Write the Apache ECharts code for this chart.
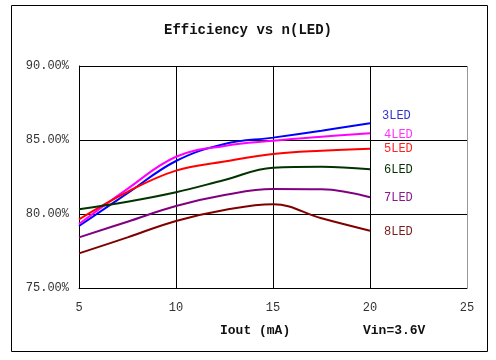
<!DOCTYPE html>
<html><head><meta charset="utf-8">
<script src="https://cdn.jsdelivr.net/npm/echarts@6/dist/echarts.min.js"></script>
<style>html,body{margin:0;padding:0;background:#fff}#c{width:496px;height:360px}</style>
</head><body><div id="c"></div>
<script>
const currents = [5, 7.5, 10, 12.5, 15, 17.5, 20];
const led3 = [79.19, 81.4, 83.58, 84.73, 85.16, 85.63, 86.13];
const led4 = [79.32, 81.7, 83.87, 84.6, 84.95, 85.22, 85.45];
const led5 = [79.64, 81.5, 82.93, 83.54, 84.05, 84.28, 84.41];
const led6 = [80.32, 80.83, 81.47, 82.30, 83.13, 83.20, 83.02];
const led7 = [78.42, 79.48, 80.54, 81.28, 81.69, 81.67, 81.13];
const led8 = [77.34, 78.42, 79.53, 80.27, 80.66, 79.71, 78.87];
const seriesNames = ['3LED', '4LED', '5LED', '6LED', '7LED', '8LED'];
const xTicks = [5, 10, 15, 20, 25];
const yTicks = [75, 80, 85, 90];

const allData = [led3, led4, led5, led6, led7, led8];
const colors = ['#0000ff', '#ff00ff', '#ff0000', '#003300', '#800080', '#800000'];
const labelColors = ['#3333cc', '#ff33ff', '#ff2222', '#003300', '#8a1a8a', '#7a1a1a'];
const labelOffsets = [[4, -7], [6, 1], [6, 0], [6, 1], [6, 1], [6, 1]];
const mono = '"Liberation Mono", "DejaVu Sans Mono", monospace';

const chart = echarts.init(document.getElementById('c'));
chart.setOption({
  animation: false,
  backgroundColor: '#fff',
  title: {
    text: 'Efficiency vs n(LED)', left: 'center', top: 18,
    textStyle: { fontFamily: mono, fontSize: 14, fontWeight: 'bold', color: '#111' }
  },
  grid: { left: 79, right: 29, top: 66, bottom: 72, containLabel: false },
  xAxis: {
    type: 'value', min: xTicks[0], max: xTicks[xTicks.length - 1], interval: 5,
    axisLine: { show: true, lineStyle: { color: '#000', width: 1 } },
    axisTick: { show: false },
    axisLabel: { fontFamily: mono, fontSize: 12, color: '#333', margin: 14 },
    splitLine: { show: true, lineStyle: { color: ['#000', '#000', '#000', '#000', '#999'], width: 1 } }
  },
  yAxis: {
    type: 'value', min: yTicks[0], max: yTicks[yTicks.length - 1], interval: 5,
    axisLine: { show: true, lineStyle: { color: '#000', width: 1 } },
    axisTick: { show: false },
    axisLabel: { fontFamily: mono, fontSize: 12, color: '#333', margin: 10,
      formatter: v => v.toFixed(2) + '%' },
    splitLine: { show: true, lineStyle: { color: '#000', width: 1 } }
  },
  graphic: [
    { type: 'rect', shape: { x: 11.5, y: 5.5, width: 476, height: 346 },
      style: { fill: 'none', stroke: '#000', lineWidth: 1 }, silent: true, z: -1 },
    { type: 'text', left: 220, top: 324,
      style: { text: 'Iout (mA)', font: 'bold 13px ' + mono, fill: '#111' } },
    { type: 'text', left: 363, top: 324,
      style: { text: 'Vin=3.6V', font: 'bold 13px ' + mono, fill: '#111' } }
  ],
  series: seriesNames.map((name, i) => ({
    name: name, type: 'line', smooth: 0.4, symbol: 'none',
    data: currents.map((x, j) => [x, allData[i][j]]),
    lineStyle: { color: colors[i], width: 2 },
    itemStyle: { color: colors[i] },
    endLabel: { show: true, formatter: name, offset: labelOffsets[i],
      fontFamily: mono, fontSize: 12, color: labelColors[i] }
  }))
});
</script></body></html>
